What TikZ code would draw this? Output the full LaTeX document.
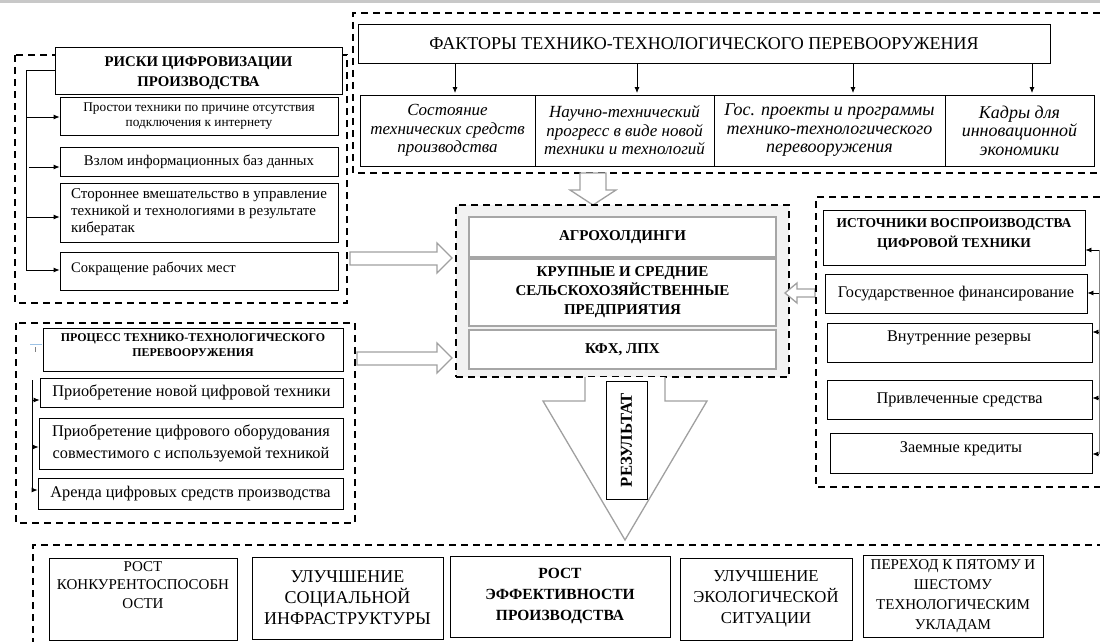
\documentclass[tikz,border=0pt]{standalone}
\usepackage{fontspec}
\setmainfont{Liberation Serif}
\usetikzlibrary{arrows.meta}
\definecolor{arrgray}{HTML}{A0A0A0}
\definecolor{boxgray}{HTML}{A6A6A6}
\definecolor{bggray}{HTML}{F2F2F2}
\definecolor{topbar}{HTML}{C8C8C8}
\definecolor{strayblue}{HTML}{9DC3E6}
\newcommand\fs[2]{\fontsize{#1}{#2}\selectfont}
\newcommand\rbox[7]{\node[#1, minimum width={#5pt-#3pt}, minimum height={#6pt-#4pt}] (#2) at ({(#3+#5)/2},{(#4+#6)/2}) {#7};}
\tikzset{
  box/.style={draw=black, line width=0.8pt, fill=white, inner sep=2pt, align=center},
  cbox/.style={draw=boxgray, line width=2pt, fill=white, inner sep=2pt, align=center},
  dashbox/.style={draw=black, line width=1.4pt, dash pattern=on 7pt off 5pt},
  hollow/.style={draw=arrgray, line width=1.3pt, fill=white, line join=miter},
  conn/.style={line width=0.8pt},
  arr/.style={conn, -{Latex[length=6pt,width=5pt]}},
  txt/.style={inner sep=0pt, align=center},
}
\begin{document}
\begin{tikzpicture}[x=1pt,y=-1pt]
\useasboundingbox (0,0) rectangle (1100,642);
\fill[topbar] (0,0) rectangle (1100,3.5);

% ---------- Risks ----------
\draw[dashbox] (15,55) rectangle (347,303);
\rbox{box}{rtitle}{55}{47}{342}{94}{}
\node[txt,font=\fs{14.8}{20}\bfseries] (rtitlet) at (198.5,73) {РИСКИ ЦИФРОВИЗАЦИИ\\ПРОИЗВОДСТВА};
\rbox{box,font=\fs{13.3}{14.5}}{r1}{60}{97}{338}{135}{Простои техники по причине отсутствия\\подключения к интернету}
\rbox{box,font=\fs{14.8}{16}}{r2}{60}{147}{338}{176}{Взлом информационных баз данных}
\rbox{box,font=\fs{15}{17},align=left}{r3}{60}{183}{338}{242}{Стороннее вмешательство в управление\\техникой и технологиями в результате\\кибератак}
\rbox{box}{r4}{60}{252}{338}{290}{}
\node[txt,anchor=west,font=\fs{14.6}{16}] (r4t) at (71,269) {Сокращение рабочих мест};
\coordinate (rv) at (26,270);
\coordinate (rv1) at (26,117);
\coordinate (rv2) at (29,167);
\coordinate (rv3) at (26,217);
\draw[conn] (rtitle.west) -| (rv);
\draw[arr] (rv1) -- (r1.west |- rv1);
\draw[arr] (rv2) -- (r2.west |- rv2);
\draw[arr] (rv3) -- (r3.west |- rv3);
\draw[arr] (rv) -- (r4.west |- rv);

% ---------- Factors ----------
\draw[dashbox] (1100,13) -- (353,13) -- (353,173) -- (1100,173);
\rbox{box,font=\fs{18}{20}}{ftitle}{358}{24}{1050}{63}{ФАКТОРЫ ТЕХНИКО-ТЕХНОЛОГИЧЕСКОГО ПЕРЕВООРУЖЕНИЯ}
\rbox{box,font=\fs{17}{18.5}\itshape}{f1}{360}{95}{535}{166}{Состояние\\технических средств\\производства}
\rbox{box,font=\fs{17}{18.5}\itshape}{f2}{535}{95}{714}{166}{Научно-технический\\прогресс в виде новой\\техники и технологий}
\rbox{box,font=\fs{18}{18.5}\itshape}{f3}{714}{95}{945}{166}{Гос. проекты и программы\\технико-технологического\\перевооружения}
\rbox{box,font=\fs{18}{18.5}\itshape}{f4}{945}{95}{1094}{166}{Кадры для\\инновационной\\экономики}
\coordinate (a1) at (455,93);
\coordinate (a2) at (637,93);
\coordinate (a3) at (853,93);
\coordinate (a4) at (1032,93);
\foreach \a in {a1,a2,a3,a4} \draw[arr] (ftitle.south -| \a) -- (\a);

% ---------- Centre ----------
\draw[hollow] (580,173) -- (606,173) -- (606,190) -- (616,190) -- (593,205) -- (570,190) -- (580,190) -- cycle;
\rbox{dashbox,fill=bggray}{cbox}{456}{205}{789}{377}{}
\rbox{cbox,font=\fs{15}{19}\bfseries}{c1}{469}{217}{776}{257}{АГРОХОЛДИНГИ}
\rbox{cbox,font=\fs{15}{19}\bfseries}{c2}{469}{259}{776}{326}{КРУПНЫЕ И СРЕДНИЕ\\СЕЛЬСКОХОЗЯЙСТВЕННЫЕ\\ПРЕДПРИЯТИЯ}
\rbox{cbox,font=\fs{15}{19}\bfseries}{c3}{469}{330}{776}{369}{КФХ, ЛПХ}
% hollow arrows into centre
\draw[hollow] (350,252) -- (437,252) -- (437,243) -- (452,258) -- (437,273) -- (437,265) -- (350,265) -- cycle;
\draw[hollow] (357,352) -- (437,352) -- (437,343) -- (452,358) -- (437,373) -- (437,365) -- (357,365) -- cycle;
\draw[hollow] (815,289) -- (797,289) -- (797,283) -- (785,293) -- (797,303) -- (797,297) -- (815,297) -- cycle;

% ---------- Sources ----------
\draw[dashbox] (1100,197) -- (816,197) -- (816,487) -- (1100,487);
\rbox{box}{s0}{823}{210}{1085}{265}{}
\node[txt,font=\fs{13.5}{20}\bfseries] (s0t) at (954,234) {ИСТОЧНИКИ ВОСПРОИЗВОДСТВА\\ЦИФРОВОЙ ТЕХНИКИ};
\rbox{box,font=\fs{16.3}{18}}{s1}{825}{274}{1087}{313}{Государственное финансирование}
\rbox{box}{s2}{827}{323}{1092}{362}{}
\node[txt,font=\fs{16.3}{18}] (s2t) at (959,338) {Внутренние резервы};
\rbox{box,font=\fs{16.3}{18}}{s3}{827}{380}{1092}{419}{Привлеченные средства}
\rbox{box}{s4}{830}{433}{1092}{473}{}
\node[txt,font=\fs{16.3}{18}] (s4t) at (961,449) {Заемные кредиты};
\coordinate (sv0) at (1099,250);
\coordinate (sv1) at (1099,293);
\coordinate (sv2) at (1099,332);
\coordinate (sv3) at (1099,398);
\coordinate (sv4) at (1099,454);
\draw[line width=0.7pt, draw=gray] (sv0) -- (sv4);
\draw[arr] (sv0) -- (s0.east |- sv0);
\draw[arr] (sv1) -- (s1.east |- sv1);
\draw[arr] (sv2) -- (s2.east |- sv2);
\draw[arr] (sv3) -- (s3.east |- sv3);
\draw[arr] (sv4) -- (s4.east |- sv4);

% ---------- Process ----------
\draw[dashbox] (16,323) rectangle (355,523);
\draw[strayblue, line width=0.8pt] (30,344) -- (42,344);
\draw[gray, line width=0.5pt] (35,347) -- (35,352);
\rbox{box}{p0}{43}{328}{343}{371}{}
\node[txt,font=\fs{11.9}{15}\bfseries] (p0t) at (193,345) {ПРОЦЕСС ТЕХНИКО-ТЕХНОЛОГИЧЕСКОГО\\ПЕРЕВООРУЖЕНИЯ};
\rbox{box,font=\fs{16.3}{18}}{p1}{40}{378}{343}{407}{Приобретение новой цифровой техники}
\rbox{box,font=\fs{16.3}{22}}{p2}{39}{418}{343}{469}{Приобретение цифрового оборудования\\совместимого с используемой техникой}
\rbox{box,font=\fs{16.3}{18}}{p3}{38}{478}{343}{509}{Аренда цифровых средств производства}
\coordinate (pv0) at (32,380);
\coordinate (pv1) at (32,400);
\coordinate (pv2) at (32,447);
\coordinate (pv3) at (32,490);
\draw[conn] (pv0) -- (pv3);
\draw[arr] (pv1) -- (p1.west |- pv1);
\draw[arr] (pv2) -- (p2.west |- pv2);
\draw[arr] (pv3) -- (p3.west |- pv3);

% ---------- Result arrow ----------
\filldraw[hollow] (585,377) -- (585,401) -- (543,401) -- (625,540) -- (707,401) -- (665,401) -- (665,377);
\node[draw=black, line width=0.8pt, fill=white, rotate=90, minimum width=118pt, minimum height=41pt, inner sep=1pt, font=\fs{16.7}{18}\bfseries] (res) at (626.5,440) {РЕЗУЛЬТАТ};

% ---------- Results ----------
\draw[dashbox] (33,645) -- (33,545) -- (1100,545);
\rbox{box}{b1}{49}{558}{237}{640}{}
\node[txt,font=\fs{15}{18.5}] (b1t) at (143,585) {РОСТ\\КОНКУРЕНТОСПОСОБН\\ОСТИ};
\rbox{box,font=\fs{18}{21}}{b2}{252}{557}{443}{639}{УЛУЧШЕНИЕ\\СОЦИАЛЬНОЙ\\ИНФРАСТРУКТУРЫ}
\rbox{box,font=\fs{15.5}{21}\bfseries}{b3}{450}{556}{670}{637}{РОСТ\\ЭФФЕКТИВНОСТИ\\ПРОИЗВОДСТВА}
\rbox{box,font=\fs{16.7}{21}}{b4}{680}{558}{852}{640}{УЛУЧШЕНИЕ\\ЭКОЛОГИЧЕСКОЙ\\СИТУАЦИИ}
\rbox{box,font=\fs{15}{20}}{b5}{863}{555}{1043}{637}{ПЕРЕХОД К ПЯТОМУ И\\ШЕСТОМУ\\ТЕХНОЛОГИЧЕСКИМ\\УКЛАДАМ}
\end{tikzpicture}
\end{document}
